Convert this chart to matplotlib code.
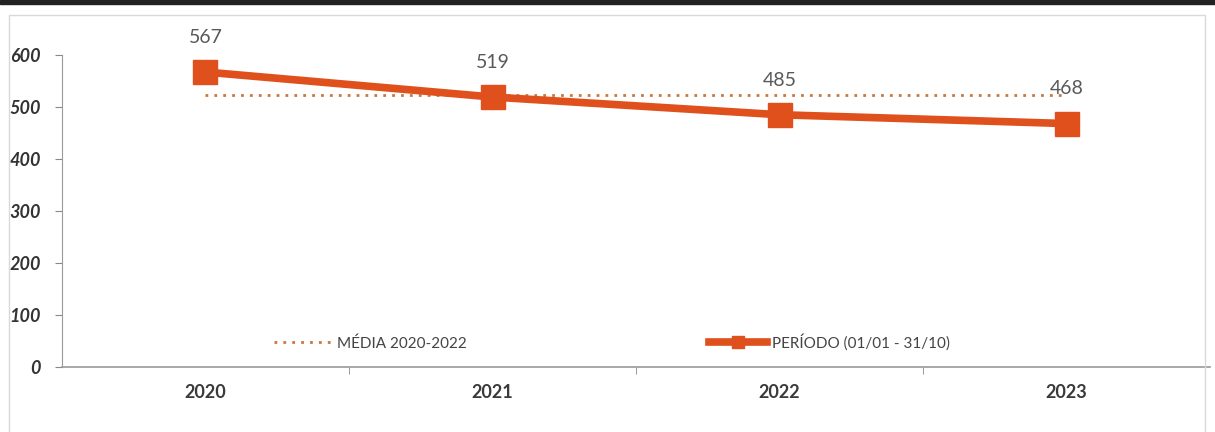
import matplotlib.pyplot as plt
from matplotlib.patches import Rectangle

plt.rcParams['font.family'] = ['Lato', 'DejaVu Sans']

# dados
anos = ['2020', '2021', '2022', '2023']
periodo = [567, 519, 485, 468]
media = round(sum(periodo[:3]) / 3, 1)
media_serie = [media] * len(anos)

laranja = '#E0501C'
cor_media = '#C9783F'

fig = plt.figure(figsize=(12.15, 4.32), dpi=100)
ax = fig.add_axes([0.051, 0.150, 0.945, 0.723])

x = list(range(len(anos)))
ax.plot(x, media_serie, linestyle=(0, (1, 2.2)), color=cor_media, linewidth=2,
        label='MÉDIA 2020-2022')
ax.plot(x, periodo, color=laranja, linewidth=5.5, marker='s', markersize=17,
        label='PERÍODO (01/01 - 31/10)')

for xi, v in zip(x, periodo):
    ax.annotate(str(v), (xi, v), xytext=(0, 25), textcoords='offset points',
                ha='center', va='center', fontsize=14, color='#595959')

ax.set_xlim(-0.5, 3.5)
ax.set_ylim(0, 600)
ax.set_yticks(range(0, 601, 100))
ax.set_yticklabels([str(t) for t in range(0, 601, 100)], fontsize=13,
                   style='italic', fontweight='bold', color='#333333')
ax.set_xticks(x)
ax.set_xticklabels(anos, fontsize=13, fontweight='bold', color='#3a3a3a')
ax.tick_params(axis='x', length=0, pad=12)
ax.set_xticks([0.5, 1.5, 2.5], minor=True)
ax.tick_params(axis='x', which='minor', length=5, color='#888888', direction='out')
ax.tick_params(axis='y', length=5, color='#888888', pad=10)

for s in ['top', 'right']:
    ax.spines[s].set_visible(False)
ax.spines['left'].set_color('#999999')
ax.spines['bottom'].set_color('#999999')
ax.spines['bottom'].set_linewidth(1.2)

ax.legend(loc='center', bbox_to_anchor=(0.479, 0.08), ncol=2, frameon=False,
          fontsize=11, labelcolor='#444444', columnspacing=15.9, handlelength=3.8,
          handletextpad=0.3, markerscale=0.55)

# moldura e linha superior
fig.patches.append(Rectangle((0.007, -0.01), 0.985, 0.975, transform=fig.transFigure,
                             fill=False, edgecolor='#d9d9d9', linewidth=1))
fig.patches.append(Rectangle((0, 0.99), 1, 0.01, transform=fig.transFigure,
                             color='#222222'))

plt.savefig('out.png')
